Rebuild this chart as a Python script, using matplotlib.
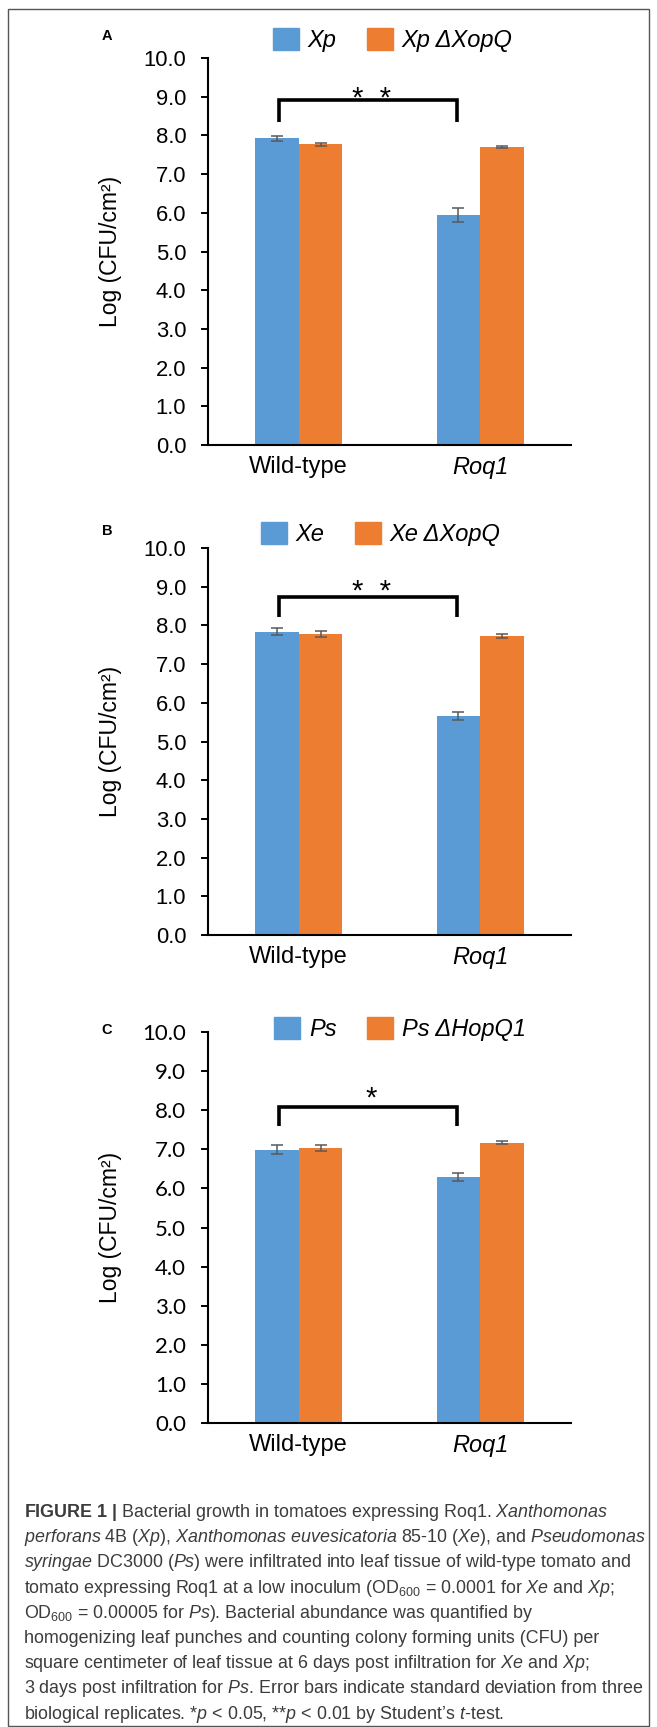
import numpy as np
import matplotlib
matplotlib.use("Agg")
import matplotlib.pyplot as plt
from matplotlib import font_manager
from matplotlib.patches import Patch, Rectangle
from matplotlib.ticker import FormatStrFormatter

# data (log CFU/cm2)
categories = ["Wild-type", "Roq1"]

a_labels = ["Xp", "Xp ΔXopQ"]
a_strain = [7.92, 5.94]
a_strain_err = [0.065, 0.19]
a_mutant = [7.77, 7.71]
a_mutant_err = [0.035, 0.025]
a_bracket = [8.35, 8.91]
a_stars = "*  *"
a_star_y = 9.17

b_labels = ["Xe", "Xe ΔXopQ"]
b_strain = [7.84, 5.67]
b_strain_err = [0.09, 0.105]
b_mutant = [7.78, 7.73]
b_mutant_err = [0.075, 0.06]
b_bracket = [8.21, 8.74]
b_stars = "*  *"
b_star_y = 9.09

c_labels = ["Ps", "Ps ΔHopQ1"]
c_strain = [6.99, 6.29]
c_strain_err = [0.12, 0.10]
c_mutant = [7.04, 7.17]
c_mutant_err = [0.08, 0.03]
c_bracket = [7.60, 8.09]
c_stars = "*"
c_star_y = 8.52

yticks = np.arange(0, 11, 1)

BLUE = "#5B9BD5"
ORANGE = "#ED7D31"
ERR = "#595959"

W, H = 657, 1727


def fx(px):
    return px / W


def fy(py):
    return 1 - py / H


names = {f.name for f in font_manager.fontManager.ttflist}
cap_font = "Liberation Sans Narrow" if "Liberation Sans Narrow" in names else "Liberation Sans"
tick_font_c = "Lato" if "Lato" in names else "Liberation Sans"

plt.rcParams["font.family"] = ["Liberation Sans", "DejaVu Sans"]
plt.rcParams["mathtext.fontset"] = "custom"
plt.rcParams["mathtext.rm"] = cap_font
plt.rcParams["mathtext.it"] = cap_font + ":italic"
plt.rcParams["mathtext.bf"] = cap_font + ":bold"

fig = plt.figure(figsize=(W / 100, H / 100), dpi=100)

# panel layout in pixels: (letter, letter_y, axes top, axes bottom, legend x, legend y)
panels = [
    ("A", 36, 58, 445, 273, 40, a_labels, a_strain, a_strain_err, a_mutant, a_mutant_err,
     a_bracket, a_stars, a_star_y),
    ("B", 531, 548, 935, 261, 534, b_labels, b_strain, b_strain_err, b_mutant, b_mutant_err,
     b_bracket, b_stars, b_star_y),
    ("C", 1030, 1032, 1423, 274, 1029, c_labels, c_strain, c_strain_err, c_mutant, c_mutant_err,
     c_bracket, c_stars, c_star_y),
]

bw = 0.24
ekw = dict(ecolor=ERR, elinewidth=1.1, capsize=4.5, capthick=1.1)

for (letter, ly, top, bot, lx, lgy, labels, strain, strain_err, mutant, mutant_err,
     bracket, stars, star_y) in panels:
    ax = fig.add_axes([fx(208), fy(bot), fx(571) - fx(208), (bot - top) / H])
    x = np.arange(len(categories))
    ax.bar(x - bw / 2, strain, bw, color=BLUE, yerr=strain_err, error_kw=ekw, zorder=2)
    ax.bar(x + bw / 2, mutant, bw, color=ORANGE, yerr=mutant_err, error_kw=ekw, zorder=2)

    ax.set_xlim(-0.5, 1.5)
    ax.set_ylim(0, 10)
    ax.set_yticks(yticks)
    ax.yaxis.set_major_formatter(FormatStrFormatter("%.1f"))
    ax.set_xticks(x)
    ax.set_xticklabels(categories)
    ax.get_xticklabels()[1].set_style("italic")
    for s in ["top", "right"]:
        ax.spines[s].set_visible(False)
    for s in ["left", "bottom"]:
        ax.spines[s].set_linewidth(1.5)
    ax.tick_params(axis="y", length=4.7, width=1.4, pad=11, labelsize=15.8)
    ax.tick_params(axis="x", length=0, pad=8, labelsize=17)
    if letter == "C":
        for t in ax.get_yticklabels():
            t.set_fontfamily(tick_font_c)
            t.set_fontsize(16)

    # significance bracket between the two blue bars
    left, right = -0.11, 0.87
    ax.plot([left, left, right, right], [bracket[0], bracket[1], bracket[1], bracket[0]],
            color="black", lw=2.6, solid_joinstyle="miter", solid_capstyle="butt", zorder=3)
    ax.annotate(stars, ((left + right) / 2 + 0.02, star_y), xytext=(0, -12),
                textcoords="offset points", ha="center", va="baseline", fontsize=21)

    fig.text(fx(110), fy((top + bot) / 2), "Log (CFU/cm²)", rotation=90,
             ha="center", va="center", fontsize=16.5)
    fig.text(fx(107), fy(ly), letter, fontsize=10.5, weight="bold", ha="center", va="center")

    handles = [Patch(color=BLUE, label=labels[0]), Patch(color=ORANGE, label=labels[1])]
    fig.legend(handles=handles, loc="center left", bbox_to_anchor=(fx(lx), fy(lgy)),
               bbox_transform=fig.transFigure, ncol=2, frameon=False,
               prop={"style": "italic", "size": 17}, handlelength=1.1, handleheight=1.1,
               handletextpad=0.38, columnspacing=1.27, borderpad=0, borderaxespad=0)

# caption
cap_lines = [
    r"$\mathbf{FIGURE\ 1\ |}$ Bacterial growth in tomatoes expressing Roq1. $\mathit{Xanthomonas}$",
    r"$\mathit{perforans}$ 4B ($\mathit{Xp}$), $\mathit{Xanthomonas\ euvesicatoria}$ 85-10 ($\mathit{Xe}$), and $\mathit{Pseudomonas}$",
    r"$\mathit{syringae}$ DC3000 ($\mathit{Ps}$) were infiltrated into leaf tissue of wild-type tomato and",
    r"tomato expressing Roq1 at a low inoculum (OD$_{\mathrm{600}}$ = 0.0001 for $\mathit{Xe}$ and $\mathit{Xp}$;",
    r"OD$_{\mathrm{600}}$ = 0.00005 for $\mathit{Ps}$). Bacterial abundance was quantified by",
    "homogenizing leaf punches and counting colony forming units (CFU) per",
    r"square centimeter of leaf tissue at 6 days post infiltration for $\mathit{Xe}$ and $\mathit{Xp}$;",
    r"3 days post infiltration for $\mathit{Ps}$. Error bars indicate standard deviation from three",
    r"biological replicates. *$\mathit{p}$ < 0.05, **$\mathit{p}$ < 0.01 by Student’s $\mathit{t}$-test.",
]
cap_texts = []
for i, line in enumerate(cap_lines):
    t = fig.text(fx(24), fy(1517 + i * 25.2), line, fontsize=13, family=cap_font,
                 color="#3c3c3c", ha="left", va="baseline")
    cap_texts.append(t)

# scale caption so the longest line fits inside the frame
fig.canvas.draw()
r = fig.canvas.get_renderer()
wmax = max(t.get_window_extent(r).width for t in cap_texts)
fs = 13 * 620 / wmax
for t in cap_texts:
    t.set_fontsize(fs)

fig.add_artist(Rectangle((fx(8), fy(1725.5)), fx(649) - fx(8), (1725.5 - 9) / H,
                         transform=fig.transFigure, fill=False, ec="#555555", lw=1.0))

fig.savefig("out.png", dpi=100)
